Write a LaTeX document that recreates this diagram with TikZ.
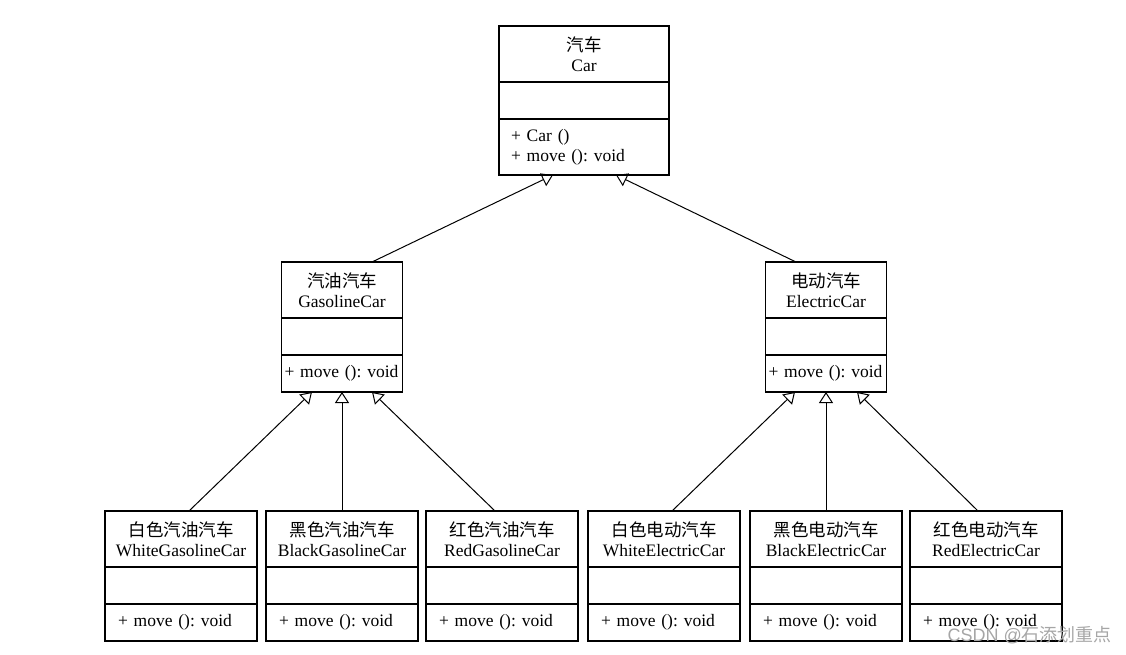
\documentclass[tikz,border=0pt]{standalone}
\usepackage{fontspec}
\setmainfont{Liberation Serif}
\newfontfamily\cjk{Noto Sans CJK SC}
\newfontfamily\markfont{Liberation Sans}
\usetikzlibrary{positioning, arrows.meta, calc}

\tikzset{
  cls/.style={draw, line width=1.1pt, inner sep=0pt, outer sep=0pt, font=\fontsize{17.5}{20}\selectfont\frenchspacing},
  clsname/.style={cls, align=center, minimum height=56pt},
  clsattr/.style={cls, minimum height=37pt},
  clsop/.style={cls, align=left, minimum height=37pt},
  inherit/.style={-{Triangle[open, length=11pt, width=14pt]}, line width=1pt},
}

\begin{document}
\begin{tikzpicture}[x=1pt, y=-1pt]
        \useasboundingbox (0,0) rectangle (1126,655);

        % Clase base
        \node[clsname, minimum width=170pt] (car) at (584,54) {{\cjk 汽车}\\Car};
        \node[clsattr, minimum width=170pt, below=0pt of car] (car-a) {};
        \node[clsop, text width=146pt, inner xsep=12pt, minimum height=56pt, below=0pt of car-a] (car-o)
            {+ Car ()\\+ move (): void};

        % Segundo nivel
        \node[clsname, minimum width=121pt] (gas) at (342,290) {{\cjk 汽油汽车}\\GasolineCar};
        \node[clsattr, minimum width=121pt, below=0pt of gas] (gas-a) {};
        \node[clsop, text width=115pt, inner xsep=3pt, below=0pt of gas-a] (gas-o) {+ move (): void};
        \draw[inherit] ([xshift=30pt]gas.north) -- ([xshift=-31pt]car-o.south);

        \node[clsname, minimum width=121pt] (elec) at (826,290) {{\cjk 电动汽车}\\ElectricCar};
        \node[clsattr, minimum width=121pt, below=0pt of elec] (elec-a) {};
        \node[clsop, text width=115pt, inner xsep=3pt, below=0pt of elec-a] (elec-o) {+ move (): void};
        \draw[inherit] ([xshift=-30pt]elec.north) -- ([xshift=32pt]car-o.south);

        % Tercer nivel: gasolina
        \node[clsname, minimum width=152pt] (wgas) at (181,539) {{\cjk 白色汽油汽车}\\WhiteGasolineCar};
        \node[clsattr, minimum width=152pt, below=0pt of wgas] (wgas-a) {};
        \node[clsop, text width=126pt, inner xsep=13pt, below=0pt of wgas-a] (wgas-o) {+ move (): void};
        \draw[inherit] ([xshift=8pt]wgas.north) -- ([xshift=-30pt]gas-o.south);

        \node[clsname, minimum width=152pt] (bgas) at (342,539) {{\cjk 黑色汽油汽车}\\BlackGasolineCar};
        \node[clsattr, minimum width=152pt, below=0pt of bgas] (bgas-a) {};
        \node[clsop, text width=126pt, inner xsep=13pt, below=0pt of bgas-a] (bgas-o) {+ move (): void};
        \draw[inherit] (bgas.north) -- (gas-o.south);

        \node[clsname, minimum width=152pt] (rgas) at (502,539) {{\cjk 红色汽油汽车}\\RedGasolineCar};
        \node[clsattr, minimum width=152pt, below=0pt of rgas] (rgas-a) {};
        \node[clsop, text width=126pt, inner xsep=13pt, below=0pt of rgas-a] (rgas-o) {+ move (): void};
        \draw[inherit] ([xshift=-7pt]rgas.north) -- ([xshift=30pt]gas-o.south);

        % Tercer nivel: eléctrico
        \node[clsname, minimum width=152pt] (welec) at (664,539) {{\cjk 白色电动汽车}\\WhiteElectricCar};
        \node[clsattr, minimum width=152pt, below=0pt of welec] (welec-a) {};
        \node[clsop, text width=126pt, inner xsep=13pt, below=0pt of welec-a] (welec-o) {+ move (): void};
        \draw[inherit] ([xshift=8pt]welec.north) -- ([xshift=-31pt]elec-o.south);

        \node[clsname, minimum width=152pt] (belec) at (826,539) {{\cjk 黑色电动汽车}\\BlackElectricCar};
        \node[clsattr, minimum width=152pt, below=0pt of belec] (belec-a) {};
        \node[clsop, text width=126pt, inner xsep=13pt, below=0pt of belec-a] (belec-o) {+ move (): void};
        \draw[inherit] (belec.north) -- (elec-o.south);

        \node[clsname, minimum width=152pt] (relec) at (986,539) {{\cjk 红色电动汽车}\\RedElectricCar};
        \node[clsattr, minimum width=152pt, below=0pt of relec] (relec-a) {};
        \node[clsop, text width=126pt, inner xsep=13pt, below=0pt of relec-a] (relec-o) {+ move (): void};
        \draw[inherit] ([xshift=-8pt]relec.north) -- ([xshift=31pt]elec-o.south);

        % Marca de agua
        \node[anchor=east, text=black!35, font=\fontsize{18}{18}\selectfont\markfont, inner sep=0pt] (mark) at (1112,635)
            {CSDN @{\cjk 石添划重点}};
    \end{tikzpicture}
\end{document}
